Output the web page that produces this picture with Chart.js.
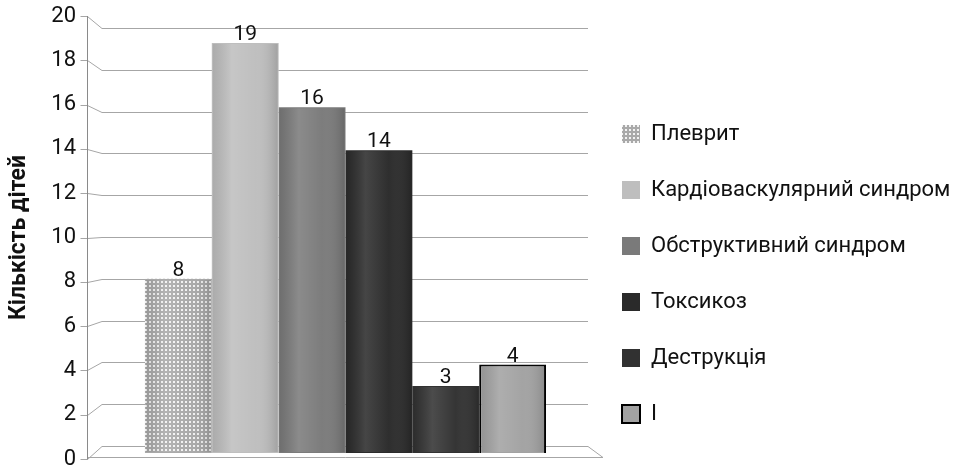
<!DOCTYPE html>
<html><head><meta charset="utf-8">
<script src="https://cdn.jsdelivr.net/npm/chart.js@4.4.1/dist/chart.umd.min.js"></script>
<style>html,body{margin:0;padding:0;background:#fff;overflow:hidden}</style>
</head><body>
<canvas id="c" width="957" height="466"></canvas>
<script>
// ---- data ----
const seriesLabels = ['Плеврит', 'Кардіоваскулярний синдром', 'Обструктивний синдром', 'Токсикоз', 'Деструкція', 'І'];
const seriesValues = [8, 19, 16, 14, 3, 4];
const yTickValues = [0, 2, 4, 6, 8, 10, 12, 14, 16, 18, 20];
const yAxisTitle = 'Кількість дітей';

// ---- style ----
const FONT = 'Roboto';
const seriesColors = ['pattern', '#bebebe', '#7a7a7a', '#2a2a2a', '#313131', '#a2a2a2'];
// pseudo-3D: front scale (tick labels), back wall (grid), bar faces in between
const Y_BAR_MIN = -0.406, Y_BAR_MAX = 20.257, Y_BAR_BASE = -0.13;
const Y_GRID_MIN = -0.622, Y_GRID_MAX = 20.574;

function makePattern() {
  const c = document.createElement('canvas'); c.width = 4; c.height = 4;
  const g = c.getContext('2d');
  g.fillStyle = '#a9a9a9'; g.fillRect(0, 0, 4, 4);
  g.fillStyle = '#f2f2f2'; g.fillRect(1, 1, 2, 2);
  return document.createElement('canvas').getContext('2d').createPattern(c, 'repeat');
}
const pattern = makePattern();

const framePlugin = {
  id: 'frame',
  beforeDatasetsDraw(chart) {
    const {ctx, chartArea: a, scales} = chart;
    const yt = scales.yTicks, yg = scales.yGrid;
    const fx = a.left - 15.5, bx = a.left - 1;
    ctx.save();
    ctx.lineWidth = 1;
    ctx.strokeStyle = '#a6a6a6';
    ctx.beginPath();
    yTickValues.forEach(v => {
      const py = Math.round(yt.getPixelForValue(v)) + 0.5;
      const gy = Math.round(yg.getPixelForValue(v)) + 0.5;
      ctx.moveTo(fx - 7, py); ctx.lineTo(fx, py);
      ctx.lineTo(bx, gy); ctx.lineTo(a.right, gy);
    });
    const p0 = Math.round(yt.getPixelForValue(0)) - 1.5;
    const g0 = Math.round(yg.getPixelForValue(0)) + 0.5;
    ctx.moveTo(a.right, g0); ctx.lineTo(a.right + 15, p0); ctx.lineTo(fx, p0);
    ctx.stroke();
    ctx.strokeStyle = '#8a8a8a';
    ctx.beginPath();
    ctx.moveTo(fx, Math.round(yt.getPixelForValue(20))); ctx.lineTo(fx, Math.round(yt.getPixelForValue(0)) + 0.5);
    ctx.stroke();
    ctx.restore();
  }
};

const shadePlugin = {
  id: 'shade',
  afterDatasetsDraw(chart) {
    const ctx = chart.ctx;
    ctx.save();
    chart.data.datasets.forEach((ds, i) => {
      chart.getDatasetMeta(i).data.forEach((el, j) => {
        const {x, y, base, width} = el.getProps(['x', 'y', 'base', 'width'], true);
        const l = x - width / 2;
        const gr = ctx.createLinearGradient(l, 0, l + width, 0);
        gr.addColorStop(0, 'rgba(0,0,0,0.10)');
        gr.addColorStop(0.3, 'rgba(255,255,255,0.13)');
        gr.addColorStop(0.65, 'rgba(255,255,255,0.02)');
        gr.addColorStop(1, 'rgba(0,0,0,0.16)');
        ctx.fillStyle = gr;
        ctx.fillRect(l + 1, y + 1, width - 2, base - y - 2);
        ctx.fillStyle = '#111';
        ctx.font = '21px ' + FONT;
        ctx.textAlign = 'center';
        ctx.textBaseline = 'alphabetic';
        ctx.fillText(String(ds.data[j]), x, y - 3);
      });
    });
    ctx.restore();
  }
};

const datasets = seriesLabels.map((lab, i) => ({
  label: lab,
  data: [seriesValues[i]],
  backgroundColor: seriesColors[i] === 'pattern' ? pattern : seriesColors[i],
  borderColor: i === 5 ? '#000' : 'rgba(0,0,0,0)',
  borderWidth: i === 5 ? 2 : 0,
  base: Y_BAR_BASE,
  yAxisID: 'y'
}));

new Chart(document.getElementById('c'), {
  type: 'bar',
  data: {labels: [''], datasets},
  plugins: [framePlugin, shadePlugin],
  options: {
    responsive: false,
    animation: false,
    events: [],
    layout: {padding: {top: 16, bottom: 7, left: 0, right: 0}, autoPadding: false},
    datasets: {bar: {categoryPercentage: 0.827, barPercentage: 1}},
    plugins: {
      tooltip: {enabled: false},
      legend: {
        position: 'right',
        align: 'end',
        maxWidth: 369,
        labels: {
          boxWidth: 18, boxHeight: 18, padding: 34,
          color: '#111',
          font: {family: FONT, size: 22}
        }
      }
    },
    scales: {
      x: {type: 'category', display: false, offset: true},
      y: {display: false, min: Y_BAR_MIN, max: Y_BAR_MAX},
      yGrid: {display: false, min: Y_GRID_MIN, max: Y_GRID_MAX},
      yTicks: {
        position: 'left', min: 0, max: 20,
        afterBuildTicks(s) { s.ticks = yTickValues.map(v => ({value: v})); },
        afterFit(s) { s.width = 103; },
        grid: {display: false, drawTicks: true, tickLength: 27},
        border: {display: false},
        ticks: {padding: 0, color: '#111', font: {family: FONT, size: 22, lineHeight: 0.5}},
        title: {display: true, text: yAxisTitle, color: '#111',
          font: {family: FONT, size: 23, weight: 'bold', lineHeight: 1.2},
          padding: {top: 5, bottom: 0}}
      }
    }
  }
});
</script>
</body></html>
